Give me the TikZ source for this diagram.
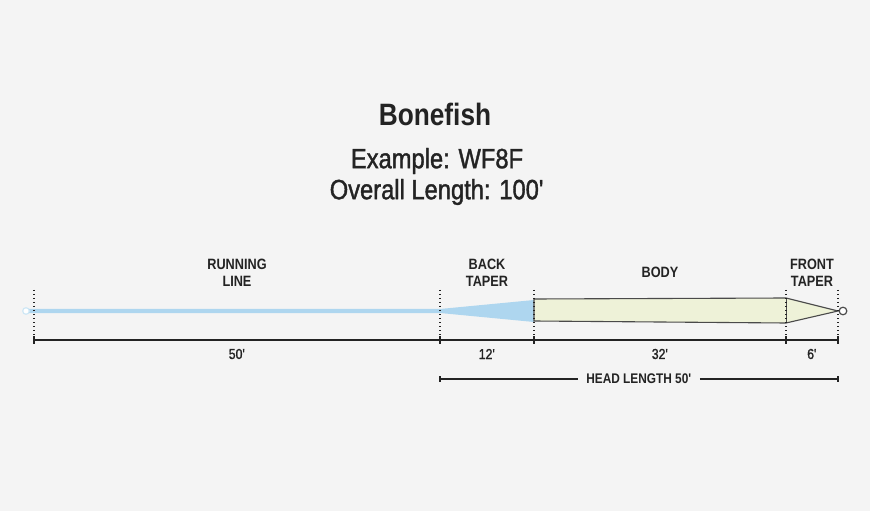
\documentclass[tikz,border=0pt]{standalone}
\usepackage{fontspec}
\setmainfont[FakeStretch=0.85]{Liberation Sans}
\newfontfamily\medfont[FakeStretch=0.85,FakeBold=1.4]{Liberation Sans}
\definecolor{bgc}{HTML}{F4F4F4}
\definecolor{txt}{HTML}{232323}
\definecolor{lineblue}{HTML}{AED6EF}
\definecolor{bodyfill}{HTML}{EEF2D8}
\definecolor{outl}{HTML}{4A4A4A}
\begin{document}
\begin{tikzpicture}[x=1bp,y=-1bp,
  lbl/.style={font=\bfseries\fontsize{15}{17}\selectfont, align=center, text=txt, inner sep=0pt},
  dimtxt/.style={font=\medfont\fontsize{14.5}{16}\selectfont, text=txt, inner sep=0pt},
  dotv/.style={draw=txt, line width=1.3bp, dash pattern=on 1.3bp off 2.7bp},
  dimline/.style={draw=txt, line width=1.4bp},
  tick/.style={draw=txt, line width=1.4bp}]
\fill[bgc] (0,0) rectangle (870,511);
\useasboundingbox (0,0) rectangle (870,511);

% titles
\node[font=\bfseries\fontsize{31}{34}\selectfont, text=txt] (title) at (435,114) {Bonefish};
\node[font=\medfont\fontsize{28}{30}\selectfont, text=txt] (ex) at (437,161) {Example: WF8F};
\node[font=\medfont\fontsize{28}{30}\selectfont, text=txt] (ov) at (437,192) {Overall Length: 100\textquotesingle};

% section labels
\node[lbl] (run) at (237,273) {RUNNING\\LINE};
\node[lbl] (back) at (487,273) {BACK\\TAPER};
\node[lbl] (body) at (660,272) {BODY};
\node[lbl] (front) at (812,273) {FRONT\\TAPER};

% line: running line and back taper
\fill[lineblue] (26,309) -- (440,309) -- (534,300) -- (534,322) -- (440,313) -- (26,313) -- cycle;
\draw[lineblue!60!white, line width=1.2bp, fill=white] (26,311) circle (3.3);
% body
\draw[outl, fill=bodyfill, line width=1.1bp] (534,299) -- (786,298) -- (838,311) -- (786,323) -- (534,321) -- cycle;
\draw[outl, line width=1bp] (786,298) -- (786,323);
\draw[outl, line width=1.2bp, fill=white] (843,311) circle (3.8);

% dotted verticals
\foreach \x/\n in {34/a,440/b,534/c,786/d,838/e}{
  \coordinate (t\n) at (\x,290);
  \coordinate (m\n) at (\x,340);
  \draw[dotv] (t\n) -- (m\n);
  \draw[tick] (\x,336) -- (\x,344);
}
\draw[dimline] (ma) -- (me);

% dimension texts
\node[dimtxt] (d1) at (237,354) {50\textquotesingle};
\node[dimtxt] (d2) at (487,354) {12\textquotesingle};
\node[dimtxt] (d3) at (660,354) {32\textquotesingle};
\node[dimtxt] (d4) at (812,354) {6\textquotesingle};

% head length
\node[lbl, font=\bfseries\fontsize{14}{16}\selectfont] (head) at (639,379) {HEAD LENGTH 50\textquotesingle};
\coordinate (hl) at (440,379);
\coordinate (hr) at (838,379);
\draw[dimline] (hl) -- ([xshift=-8bp]head.west);
\draw[dimline] ([xshift=8bp]head.east) -- (hr);
\draw[tick, line width=1.2bp] (440,376) -- (440,382);
\draw[tick, line width=1.2bp] (838,376) -- (838,382);
\end{tikzpicture}
\end{document}
